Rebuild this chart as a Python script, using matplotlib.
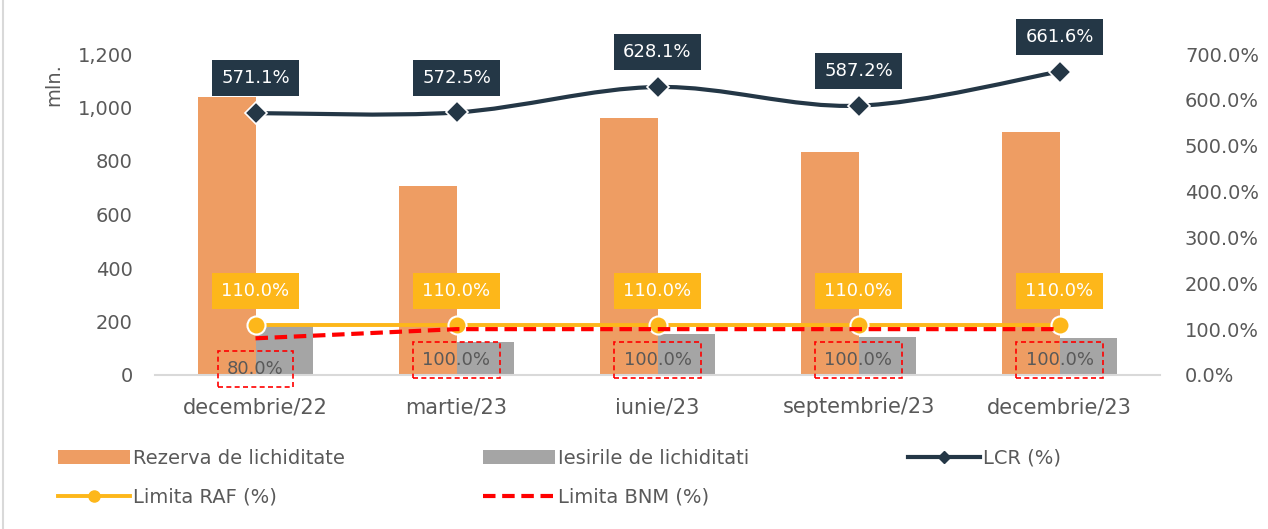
import matplotlib
matplotlib.use("Agg")
import matplotlib.pyplot as plt
from matplotlib.path import Path
from matplotlib.patches import PathPatch
from matplotlib.lines import Line2D
from matplotlib.ticker import FuncFormatter, MultipleLocator
import numpy as np

# ---- data ----
categories = ["decembrie/22", "martie/23", "iunie/23", "septembrie/23", "decembrie/23"]
rezerva = [1040, 707, 960, 834, 907]          # mln.
iesiri = [183, 123, 153, 142, 138]            # mln.
lcr = [571.1, 572.5, 628.1, 587.2, 661.6]     # %
limita_raf = [110.0, 110.0, 110.0, 110.0, 110.0]
limita_bnm = [80.0, 100.0, 100.0, 100.0, 100.0]

# ---- style ----
C_ORANGE = "#EE9D63"
C_GRAY = "#A5A5A5"
C_NAVY = "#243746"
C_YELLOW = "#FDB71A"
C_RED = "#FF0000"
C_TXT = "#595959"
plt.rcParams["font.family"] = ["DejaVu Sans"]

W, H = 1268, 529
fig = plt.figure(figsize=(W / 100, H / 100), dpi=100)
ax = fig.add_axes([155 / W, 1 - 375 / H, (1160 - 155) / W, (375 - 54) / H])
ax2 = ax.twinx()

x = np.arange(len(categories))
bw = 0.284
ax.bar(x, rezerva, width=-bw, align="edge", color=C_ORANGE, label="Rezerva de lichiditate")
ax.bar(x, iesiri, width=bw, align="edge", color=C_GRAY, label="Iesirile de lichiditati")
ax.set_xlim(-0.5, len(categories) - 0.5)
ax.set_ylim(0, 1200)
ax.yaxis.set_major_locator(MultipleLocator(200))
ax.yaxis.set_major_formatter(FuncFormatter(lambda v, p: f"{v:,.0f}"))
ax.set_xticks(x)
ax.set_xticklabels(categories)
ax.tick_params(axis="x", length=0, pad=16, labelsize=15, labelcolor=C_TXT)
ax.tick_params(axis="y", length=0, pad=16, labelsize=14, labelcolor=C_TXT)
for s in ["top", "left", "right"]:
    ax.spines[s].set_visible(False)
ax.spines["bottom"].set_color("#D9D9D9")
ax.spines["bottom"].set_linewidth(1.5)

ax2.set_ylim(0, 700)
ax2.yaxis.set_major_locator(MultipleLocator(100))
ax2.yaxis.set_major_formatter(FuncFormatter(lambda v, p: f"{v:.1f}%"))
ax2.tick_params(axis="y", length=0, pad=18, labelsize=14, labelcolor=C_TXT)
for s in ["top", "left", "right", "bottom"]:
    ax2.spines[s].set_visible(False)

# Limita RAF
raf_line, = ax2.plot(x, limita_raf, color=C_YELLOW, lw=2.8, marker="o", markersize=13,
                     markerfacecolor=C_YELLOW, markeredgecolor="white", markeredgewidth=1.5,
                     zorder=3, label="Limita RAF (%)")
raf_handle = Line2D([], [], color=C_YELLOW, lw=2.8, marker="o", markersize=8,
                    markerfacecolor=C_YELLOW, markeredgecolor=C_YELLOW)
# Limita BNM
bnm_line, = ax2.plot(x, limita_bnm, color=C_RED, lw=3, dashes=(3, 1.6), zorder=4,
                     label="Limita BNM (%)")

# LCR smooth line (Excel-like Catmull-Rom bezier)
pts = np.column_stack([x, lcr]).astype(float)
ext = np.vstack([pts[0], pts, pts[-1]])
verts = [tuple(pts[0])]
codes = [Path.MOVETO]
for i in range(len(pts) - 1):
    p0, p1, p2, p3 = ext[i], ext[i + 1], ext[i + 2], ext[i + 3]
    c1 = p1 + (p2 - p0) / 6.0
    c2 = p2 - (p3 - p1) / 6.0
    verts += [tuple(c1), tuple(c2), tuple(p2)]
    codes += [Path.CURVE4] * 3
ax2.add_patch(PathPatch(Path(verts, codes), facecolor="none", edgecolor=C_NAVY, lw=3, zorder=5))
ax2.plot(x, lcr, linestyle="none", marker="D", markersize=11, markerfacecolor=C_NAVY,
         markeredgecolor="white", markeredgewidth=1.2, zorder=6)
lcr_handle = Line2D([], [], color=C_NAVY, lw=3, marker="D", markersize=6,
                    markerfacecolor=C_NAVY, markeredgecolor=C_NAVY)

# data labels
for xi, v in zip(x, lcr):
    ax2.annotate(f"{v:.1f}%", (xi, v), xytext=(0, 25), textcoords="offset points",
                 ha="center", va="center", fontsize=13, color="white", zorder=7,
                 bbox=dict(boxstyle="square,pad=0.5", facecolor=C_NAVY, edgecolor="none"))
for xi, v in zip(x, limita_raf):
    ax2.annotate(f"{v:.1f}%", (xi, v), xytext=(0, 24), textcoords="offset points",
                 ha="center", va="center", fontsize=13, color="white", zorder=7,
                 bbox=dict(boxstyle="square,pad=0.5", facecolor=C_YELLOW, edgecolor="none"))
for xi, v in zip(x, limita_bnm):
    ax2.annotate(f"{v:.1f}%", (xi, v), xytext=(0, -22), textcoords="offset points",
                 ha="center", va="center", fontsize=13, color=C_TXT, zorder=7,
                 bbox=dict(boxstyle="square,pad=0.5", facecolor="none", edgecolor=C_RED,
                           linestyle=(0, (3, 2)), linewidth=1.2))

# y-axis unit label
fig.text(54 / W, 1 - 85 / H, "mln.", rotation=90, ha="center", va="center",
         fontsize=14, color=C_TXT)

# legends (one per entry to keep Excel-like fixed column positions)
bars_h, bars_l = ax.get_legend_handles_labels()
entries = [
    (bars_h[0], bars_l[0], 58, 458),
    (bars_h[1], bars_l[1], 483, 458),
    (lcr_handle, "LCR (%)", 908, 458),
    (raf_handle, "Limita RAF (%)", 58, 497),
    (bnm_line, "Limita BNM (%)", 483, 497),
]
for h, l, px, py in entries:
    fig.legend([h], [l], loc="center left", bbox_to_anchor=(px / W, 1 - py / H),
               frameon=False, fontsize=14, handlelength=3.7, handletextpad=0.15,
               borderpad=0, borderaxespad=0, labelcolor=C_TXT)

# chart border line on left
fig.add_artist(Line2D([3 / W, 3 / W], [0, 1], transform=fig.transFigure,
                      color="#D9D9D9", lw=1.5))

fig.savefig("out.png", dpi=100)
